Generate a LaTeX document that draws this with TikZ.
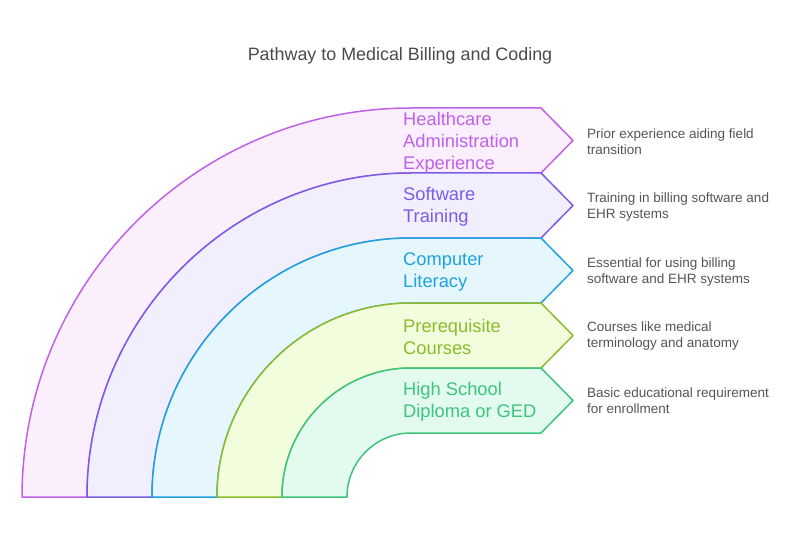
\documentclass[tikz,border=0pt]{standalone}
\usepackage{fontspec}
\setmainfont{Liberation Sans}
\definecolor{sA}{HTML}{C062E6}\definecolor{fA}{HTML}{FBEEFD}
\definecolor{sB}{HTML}{7A5CE6}\definecolor{fB}{HTML}{F1EFFD}
\definecolor{sC}{HTML}{1FA3DF}\definecolor{fC}{HTML}{E6F6FD}
\definecolor{sD}{HTML}{8CBB2D}\definecolor{fD}{HTML}{F2FDDD}
\definecolor{sE}{HTML}{3DC47E}\definecolor{fE}{HTML}{E2FBEE}
\definecolor{titlegray}{HTML}{4A4A4A}
\definecolor{descgray}{HTML}{555555}
\tikzset{
  band/.style={line width=1.5pt, line join=round},
  bandlabel/.style={anchor=west, align=left, font=\fontsize{18.3}{22}\selectfont, inner sep=0pt},
  desc/.style={anchor=west, align=left, text=descgray, font=\fontsize{13.5}{16}\selectfont, inner sep=0pt},
}
\newcommand{\bandshape}[3]{% #1 outer radius, #2 stroke, #3 fill
  \pgfmathsetmacro{\Ro}{#1}\pgfmathsetmacro{\Ri}{#1-65}\pgfmathsetmacro{\Rm}{#1-32.5}
  \draw[band, draw=#2, fill=#3] (411-\Ro,45) arc[start angle=180,end angle=90,radius=\Ro]
    -- (541,45+\Ro) -- (573,45+\Rm) -- (541,45+\Ri) -- (411,45+\Ri)
    arc[start angle=90,end angle=180,radius=\Ri] -- cycle;
}
\begin{document}
\begin{tikzpicture}[x=1pt,y=1pt]
\useasboundingbox (0,0) rectangle (801,542);
\node[text=titlegray, font=\fontsize{17.9}{20}\selectfont] (title) at (400,486.5) {Pathway to Medical Billing and Coding};
\bandshape{389}{sA}{fA}
\bandshape{324}{sB}{fB}
\bandshape{259}{sC}{fC}
\bandshape{194}{sD}{fD}
\bandshape{129}{sE}{fE}
\node[bandlabel, text=sA] (l1) at (403,399.5) {Healthcare\\Administration\\Experience};
\node[bandlabel, text=sB] (l2) at (403,335.5) {Software\\Training};
\node[bandlabel, text=sC] (l3) at (403,270) {Computer\\Literacy};
\node[bandlabel, text=sD] (l4) at (403,205) {Prerequisite\\Courses};
\node[bandlabel, text=sE] (l5) at (403,140.5) {High School\\Diploma or GED};
\node[desc] (d1) at (587,400) {Prior experience aiding field\\transition};
\node[desc] (d2) at (587,335) {Training in billing software and\\EHR systems};
\node[desc] (d3) at (587,270) {Essential for using billing\\software and EHR systems};
\node[desc] (d4) at (587,206) {Courses like medical\\terminology and anatomy};
\node[desc] (d5) at (587,141) {Basic educational requirement\\for enrollment};
\end{tikzpicture}
\end{document}
